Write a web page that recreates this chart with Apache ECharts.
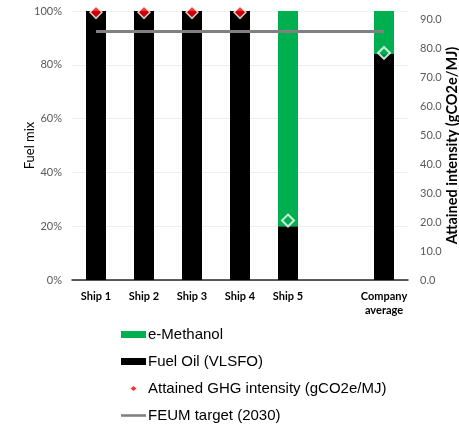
<!DOCTYPE html>
<html>
<head>
<meta charset="utf-8">
<script src="https://cdn.jsdelivr.net/npm/echarts@6/dist/echarts.min.js"></script>
<style>html,body{margin:0;padding:0;background:#fff;}#c{width:459px;height:424px;}</style>
</head>
<body>
<div id="c"></div>
<script>
const categories = ['Ship 1', 'Ship 2', 'Ship 3', 'Ship 4', 'Ship 5', '', 'Company\naverage'];
const fuelOil = [100, 100, 100, 100, 20, null, 84];
const eMethanol = [0, 0, 0, 0, 80, null, 16];
const attained = [92.3, 92.3, 92.3, 92.3, 20.5, null, 78.3];
const target = [85.7, 85.7, 85.7, 85.7, 85.7, 85.7, 85.7];
const leftTicks = [0, 20, 40, 60, 80, 100];
const rightTicks = [0, 10, 20, 30, 40, 50, 60, 70, 80, 90];

const chart = echarts.init(document.getElementById('c'), null, {renderer: 'canvas'});
const axisFont = 'Lato, "Open Sans", sans-serif';
chart.setOption({
  backgroundColor: '#ffffff',
  animation: false,
  grid: {left: 72, right: 51, top: 11, bottom: 144, containLabel: false, outerBoundsMode: 'none'},
  legend: {
    orient: 'vertical',
    left: 121,
    top: 327,
    height: 110,
    padding: 0,
    itemWidth: 25,
    itemHeight: 7,
    itemGap: 12,
    textStyle: {fontFamily: '"Liberation Sans", Arial, sans-serif', fontSize: 15, color: '#000', padding: [0, 0, 0, -3]},
    data: [
      {name: 'e-Methanol', icon: 'rect'},
      {name: 'Fuel Oil (VLSFO)', icon: 'rect'},
      {name: 'Attained GHG intensity (gCO2e/MJ)', icon: 'path://M0,0M25,7M12.5,1L15.5,3.5L12.5,6L9.5,3.5Z', itemStyle: {color: '#ff0000', borderWidth: 0}},
      {name: 'FEUM target (2030)', icon: 'path://M0,0M25,7M0,2.2L25,2.2L25,4.8L0,4.8Z', itemStyle: {color: '#808080', borderWidth: 0}}
    ]
  },
  xAxis: {
    type: 'category',
    data: categories,
    axisTick: {show: false},
    axisLine: {lineStyle: {color: '#262626', width: 1.5}},
    axisLabel: {interval: 0, fontFamily: axisFont, fontSize: 11, fontWeight: 'bold', color: '#000', margin: 9, lineHeight: 14}
  },
  yAxis: [
    {
      type: 'value', min: 0, max: 100, interval: 20,
      name: 'Fuel mix', nameLocation: 'middle', nameRotate: 90, nameGap: 36, nameMoveOverlap: false,
      nameTextStyle: {fontFamily: axisFont, fontSize: 13, color: '#000'},
      axisLabel: {formatter: v => leftTicks.includes(v) ? v + '%' : '', fontFamily: axisFont, fontSize: 11, color: '#595959', margin: 10},
      axisLine: {show: false}, axisTick: {show: false},
      splitLine: {lineStyle: {color: '#efefef', width: 1}}
    },
    {
      type: 'value', min: 0, max: 92.76, interval: 10,
      name: 'Attained intensity (gCO2e/MJ)', nameLocation: 'middle', nameRotate: 90, nameGap: 37, nameMoveOverlap: false,
      nameTextStyle: {fontFamily: axisFont, fontSize: 14.5, fontWeight: 'bold', color: '#000', padding: [0, 0, 3, 0]},
      axisLabel: {formatter: v => rightTicks.includes(Math.round(v * 10) / 10) ? v.toFixed(1) : '', showMaxLabel: false, fontFamily: axisFont, fontSize: 11, color: '#595959', margin: 12},
      axisLine: {show: false}, axisTick: {show: false},
      splitLine: {show: false}
    }
  ],
  series: [
    {
      name: 'Fuel Oil (VLSFO)', type: 'bar', stack: 'mix', data: fuelOil,
      barWidth: 20, itemStyle: {color: '#000000'}
    },
    {
      name: 'e-Methanol', type: 'bar', stack: 'mix', data: eMethanol,
      barWidth: 20, itemStyle: {color: '#00b050'}
    },
    {
      name: 'FEUM target (2030)', type: 'line', yAxisIndex: 1, data: target,
      symbol: 'none', lineStyle: {color: '#808080', width: 3}, itemStyle: {color: '#808080'}, z: 3
    },
    {
      name: 'Attained GHG intensity (gCO2e/MJ)', type: 'scatter', yAxisIndex: 1,
      symbol: 'diamond', symbolSize: 12, z: 4,
      itemStyle: {color: '#ff0000', borderColor: '#ffffff', borderWidth: 1.5},
      data: attained.map((v, i) => {
        if (v === null) return null;
        if (i >= 4) return {value: v, itemStyle: {color: '#00b050', borderColor: '#ffffff', borderWidth: 2}};
        return v;
      })
    }
  ]
});
</script>
</body>
</html>
